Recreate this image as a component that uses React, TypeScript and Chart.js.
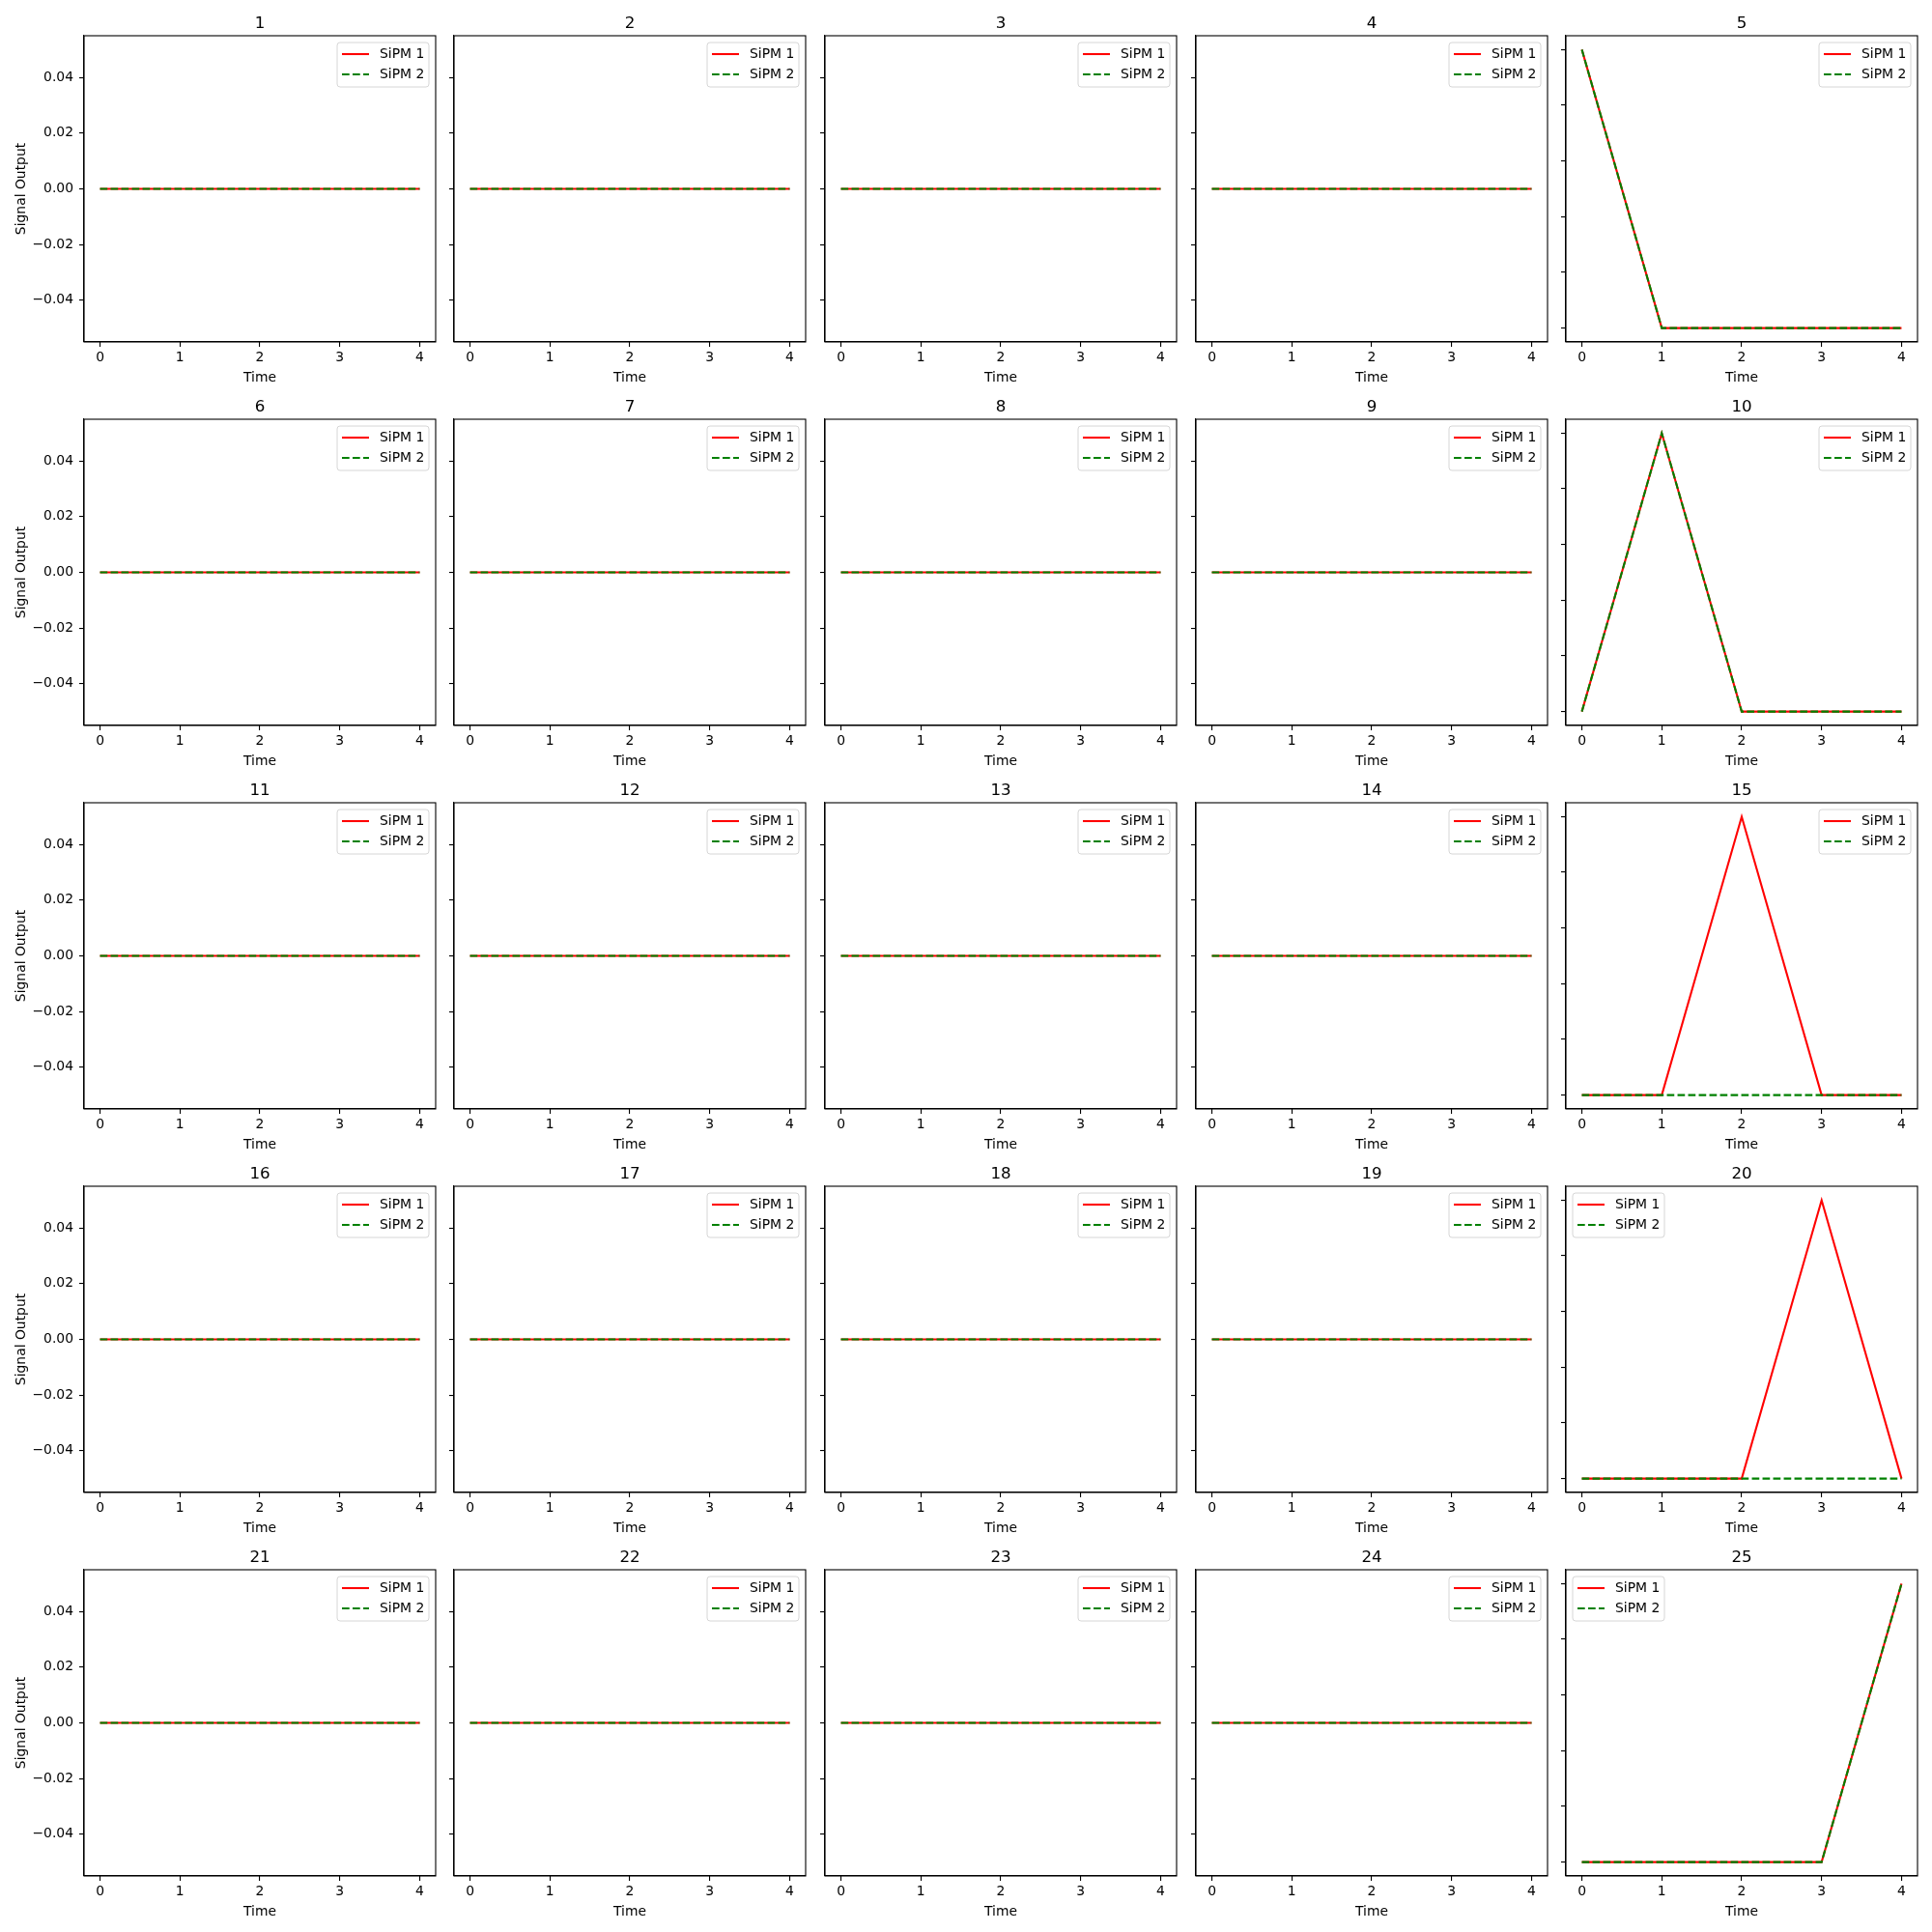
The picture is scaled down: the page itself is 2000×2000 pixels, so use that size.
import React, { useEffect, useRef } from 'react';
import { Chart, registerables } from 'chart.js';

Chart.register(...registerables);

const panelTitles = ['1', '2', '3', '4', '5', '6', '7', '8', '9', '10', '11', '12', '13', '14', '15', '16', '17', '18', '19', '20', '21', '22', '23', '24', '25'];
const timeValues = [0, 1, 2, 3, 4];

const sipm1Values: number[][] = [
  [0, 0, 0, 0, 0], [0, 0, 0, 0, 0], [0, 0, 0, 0, 0], [0, 0, 0, 0, 0], [1, 0, 0, 0, 0],
  [0, 0, 0, 0, 0], [0, 0, 0, 0, 0], [0, 0, 0, 0, 0], [0, 0, 0, 0, 0], [0, 1, 0, 0, 0],
  [0, 0, 0, 0, 0], [0, 0, 0, 0, 0], [0, 0, 0, 0, 0], [0, 0, 0, 0, 0], [0, 0, 1, 0, 0],
  [0, 0, 0, 0, 0], [0, 0, 0, 0, 0], [0, 0, 0, 0, 0], [0, 0, 0, 0, 0], [0, 0, 0, 1, 0],
  [0, 0, 0, 0, 0], [0, 0, 0, 0, 0], [0, 0, 0, 0, 0], [0, 0, 0, 0, 0], [0, 0, 0, 0, 1],
];

const sipm2Values: number[][] = [
  [0, 0, 0, 0, 0], [0, 0, 0, 0, 0], [0, 0, 0, 0, 0], [0, 0, 0, 0, 0], [1, 0, 0, 0, 0],
  [0, 0, 0, 0, 0], [0, 0, 0, 0, 0], [0, 0, 0, 0, 0], [0, 0, 0, 0, 0], [0, 1, 0, 0, 0],
  [0, 0, 0, 0, 0], [0, 0, 0, 0, 0], [0, 0, 0, 0, 0], [0, 0, 0, 0, 0], [0, 0, 0, 0, 0],
  [0, 0, 0, 0, 0], [0, 0, 0, 0, 0], [0, 0, 0, 0, 0], [0, 0, 0, 0, 0], [0, 0, 0, 0, 0],
  [0, 0, 0, 0, 0], [0, 0, 0, 0, 0], [0, 0, 0, 0, 0], [0, 0, 0, 0, 0], [0, 0, 0, 0, 1],
];

const seriesLabels = ['SiPM 1', 'SiPM 2'];
const xTicks = [0, 1, 2, 3, 4];
const yTicksFlat = [-0.04, -0.02, 0, 0.02, 0.04];
const yTicksPeak = [0, 0.2, 0.4, 0.6, 0.8, 1.0];
const legendLeftPanels = [19, 24];

const FONT = 'DejaVu Sans';
const AX_LEFTS = [87, 470, 854, 1238, 1621];
const AX_TOPS = [37, 434, 831, 1228, 1625];
const AX_W = 364;
const AX_H = 317;
const PAD_L = 85;
const PAD_T = 37;
const PAD_B = 50;
const PAD_R = 6;

function yRange(values: number[]): [number, number] {
  let lo = Math.min(...values);
  let hi = Math.max(...values);
  if (hi === lo) {
    const d = lo === 0 ? 0.05 : Math.abs(lo) * 0.05;
    lo -= d;
    hi += d;
  }
  const m = (hi - lo) * 0.05;
  return [lo - m, hi + m];
}

const fmtY = (v: number) => {
  const s = Math.abs(v).toFixed(2);
  return v < -1e-12 ? '\u2212' + s : s;
};

const framePlugin = {
  id: 'frameLegend',
  afterDraw(chart: any) {
    const { ctx, chartArea: a } = chart;
    const opts = chart.options.plugins.frameLegend || {};
    ctx.save();
    ctx.strokeStyle = '#000';
    ctx.lineWidth = 1.1;
    ctx.setLineDash([]);
    ctx.strokeRect(a.left, a.top, a.right - a.left, a.bottom - a.top);

    // panel title centred over the axes
    ctx.fillStyle = '#000';
    ctx.font = `16.7px "${FONT}"`;
    ctx.textAlign = 'center';
    ctx.textBaseline = 'alphabetic';
    ctx.fillText(opts.title || '', (a.left + a.right) / 2, a.top - 8);

    const corner = opts.corner || 'right';
    const bw = 95;
    const bh = 46;
    const bx = corner === 'left' ? a.left + 7 : a.right - 7 - bw;
    const by = a.top + 7;
    const r = 3;
    ctx.beginPath();
    ctx.moveTo(bx + r, by);
    ctx.lineTo(bx + bw - r, by);
    ctx.arcTo(bx + bw, by, bx + bw, by + r, r);
    ctx.lineTo(bx + bw, by + bh - r);
    ctx.arcTo(bx + bw, by + bh, bx + bw - r, by + bh, r);
    ctx.lineTo(bx + r, by + bh);
    ctx.arcTo(bx, by + bh, bx, by + bh - r, r);
    ctx.lineTo(bx, by + r);
    ctx.arcTo(bx, by, bx + r, by, r);
    ctx.closePath();
    ctx.fillStyle = 'rgba(255,255,255,0.8)';
    ctx.fill();
    ctx.strokeStyle = '#d6d6d6';
    ctx.lineWidth = 1;
    ctx.stroke();

    chart.data.datasets.forEach((ds: any, i: number) => {
      const y = by + 12 + i * 21;
      ctx.beginPath();
      ctx.setLineDash(ds.borderDash || []);
      ctx.strokeStyle = ds.borderColor;
      ctx.lineWidth = ds.borderWidth;
      ctx.moveTo(bx + 5, y);
      ctx.lineTo(bx + 33, y);
      ctx.stroke();
      ctx.setLineDash([]);
      ctx.fillStyle = '#000';
      ctx.font = `13.9px "${FONT}"`;
      ctx.textBaseline = 'middle';
      ctx.textAlign = 'left';
      ctx.fillText(ds.label, bx + 44, y);
    });
    ctx.restore();
  },
};

function Panel({ idx }: { idx: number }) {
  const ref = useRef<HTMLCanvasElement>(null);
  const row = Math.floor(idx / 5);
  const col = idx % 5;
  const W = PAD_L + AX_W + PAD_R;
  const H = PAD_T + AX_H + PAD_B;
  const left = AX_LEFTS[col] - PAD_L;
  const top = AX_TOPS[row] - PAD_T;

  useEffect(() => {
    const s1 = sipm1Values[idx];
    const s2 = sipm2Values[idx];
    const [yMin, yMax] = yRange([...s1, ...s2]);
    const yTicks = yMax > 0.5 ? yTicksPeak : yTicksFlat;
    const tickFont = { family: FONT, size: 13.9 };
    const chart = new Chart(ref.current as HTMLCanvasElement, {
      type: 'line',
      data: {
        datasets: [
          {
            label: seriesLabels[0],
            data: timeValues.map((t, k) => ({ x: t, y: s1[k] })),
            borderColor: '#ff0000',
            borderWidth: 2.08,
            pointRadius: 0,
            fill: false,
            tension: 0,
            order: 1,
          },
          {
            label: seriesLabels[1],
            data: timeValues.map((t, k) => ({ x: t, y: s2[k] })),
            borderColor: '#008000',
            borderWidth: 2.08,
            borderDash: [7.7, 3.3],
            pointRadius: 0,
            fill: false,
            tension: 0,
            order: 0,
          },
        ],
      } as any,
      options: {
        animation: false,
        responsive: false,
        devicePixelRatio: 1,
        layout: { padding: { left: 0, right: PAD_R, top: PAD_T, bottom: 0 } },
        plugins: {
          legend: { display: false },
          tooltip: { enabled: false },
          title: { display: false },
          frameLegend: {
            corner: legendLeftPanels.includes(idx) ? 'left' : 'right',
            title: panelTitles[idx],
          },
        } as any,
        scales: {
          x: {
            type: 'linear',
            min: -0.2,
            max: 4.2,
            afterBuildTicks: (s: any) => {
              s.ticks = xTicks.map((v) => ({ value: v }));
            },
            afterFit: (s: any) => {
              s.height = PAD_B;
            },
            ticks: {
              callback: (v: any) => String(v),
              font: tickFont,
              color: '#000',
              padding: 3,
              maxRotation: 0,
              autoSkip: false,
            },
            grid: { display: true, drawOnChartArea: false, drawTicks: true, tickLength: 5, color: '#000', lineWidth: 1.1 },
            border: { display: true, color: '#000', width: 1.1 },
            title: { display: true, text: 'Time', font: tickFont, color: '#000', padding: { top: 0, bottom: 4 } },
          },
          y: {
            type: 'linear',
            min: yMin,
            max: yMax,
            afterBuildTicks: (s: any) => {
              s.ticks = yTicks.map((v) => ({ value: v }));
            },
            afterFit: (s: any) => {
              s.width = PAD_L;
            },
            ticks: {
              callback: (v: any) => (col === 0 ? fmtY(Number(v)) : ''),
              font: tickFont,
              color: '#000',
              padding: 6,
              autoSkip: false,
            },
            grid: { display: true, drawOnChartArea: false, drawTicks: true, tickLength: 5, color: '#000', lineWidth: 1.1 },
            border: { display: true, color: '#000', width: 1.1 },
            title: {
              display: col === 0,
              text: 'Signal Output',
              font: tickFont,
              color: '#000',
              padding: { top: 12, bottom: 0 },
            },
          },
        },
      } as any,
      plugins: [framePlugin],
    });
    return () => chart.destroy();
  }, [idx]);

  return (
    <canvas
      ref={ref}
      width={W}
      height={H}
      style={{ position: 'absolute', left, top, width: W, height: H }}
    />
  );
}

export default function App() {
  return (
    <div style={{ position: 'absolute', left: 0, top: 0, width: 2000, height: 2000, background: '#fff' }}>
      {panelTitles.map((_, i) => (
        <Panel key={i} idx={i} />
      ))}
    </div>
  );
}
